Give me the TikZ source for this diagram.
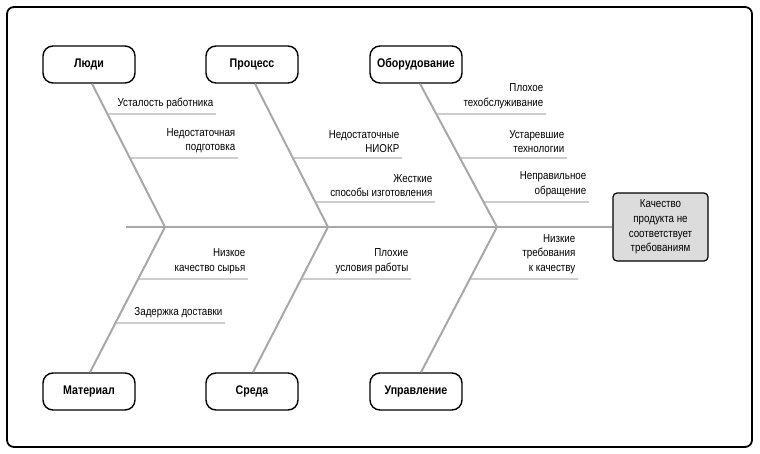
\documentclass[tikz,border=0pt]{standalone}
\usepackage{fontspec}
\setmainfont{Liberation Sans}[FakeStretch=0.85]
\definecolor{bonegray}{RGB}{168,168,168}
\definecolor{ribgray}{RGB}{178,178,178}
\definecolor{headgray}{RGB}{220,220,220}
\begin{document}
\begin{tikzpicture}[x=1pt,y=-1pt,
  cat/.style={draw=black, line width=1.4pt, rounded corners=10pt, minimum width=92pt, minimum height=37pt, inner sep=0pt, fill=white, font=\bfseries\fontsize{12.5}{14}\selectfont},
  headbox/.style={draw=black, line width=1.2pt, rounded corners=4pt, fill=headgray, minimum width=95pt, minimum height=68pt, inner sep=0pt, align=center, font=\fontsize{11.5}{14.6}\selectfont},
  bone/.style={draw=bonegray, line width=2pt},
  rib/.style={draw=ribgray, line width=1.1pt},
  cause/.style={anchor=south east, align=right, inner sep=0pt, font=\fontsize{11.5}{14.5}\selectfont}]
\useasboundingbox (0,0) rectangle (760,453);
\draw[line width=1.8pt, rounded corners=7pt] (7,7) rectangle (752,447);

% category boxes
\node[cat] (lyudi) at (89,64.5) {Люди};
\node[cat] (proc) at (252,64.5) {Процесс};
\node[cat] (obor) at (416,64.5) {Оборудование};
\node[cat] (mat) at (89,391.5) {Материал};
\node[cat] (sreda) at (252,391.5) {Среда};
\node[cat] (upr) at (416,391.5) {Управление};
\node[headbox] (head) at (660.5,227) {Качество\\продукта не\\соответствует\\требованиям};

% spine
\coordinate (tail) at (126,227);
\coordinate (j1) at (165,227);
\coordinate (j2) at (328,227);
\coordinate (j3) at (497,227);
\draw[bone] (tail) -- (head.west);

% bones
\coordinate (t1) at ([xshift=3pt]lyudi.south);
\coordinate (t2) at ([xshift=3pt]proc.south);
\coordinate (t3) at ([xshift=4pt]obor.south);
\coordinate (b1) at ([xshift=1pt]mat.north);
\coordinate (b2) at ([xshift=1pt]sreda.north);
\coordinate (b3) at ([xshift=5pt]upr.north);
\draw[bone] (t1) -- (j1);
\draw[bone] (t2) -- (j2);
\draw[bone] (t3) -- (j3);
\draw[bone] (j1) -- (b1);
\draw[bone] (j2) -- (b2);
\draw[bone] (j3) -- (b3);

\tikzset{cshift/.style={shift={(-2.5pt,5pt)}}}

% ribs: Люди
\coordinate (r11s) at (intersection of t1--j1 and 0,114--100,114);
\coordinate (r11e) at (216,114);
\draw[rib] (r11s) -- (r11e);
\node[cause] (c11) at ([cshift]r11e) {Усталость работника};
\coordinate (r12s) at (intersection of t1--j1 and 0,158--100,158);
\coordinate (r12e) at (238,158);
\draw[rib] (r12s) -- (r12e);
\node[cause] (c12) at ([cshift]r12e) {Недостаточная\\подготовка};

% ribs: Процесс
\coordinate (r21s) at (intersection of t2--j2 and 0,158--100,158);
\coordinate (r21e) at (402,158);
\draw[rib] (r21s) -- (r21e);
\node[cause] (c21) at ([cshift]r21e) {Недостаточные\\НИОКР};
\coordinate (r22s) at (intersection of t2--j2 and 0,202--100,202);
\coordinate (r22e) at (435,202);
\draw[rib] (r22s) -- (r22e);
\node[cause] (c22) at ([cshift]r22e) {Жесткие\\способы изготовления};

% ribs: Оборудование
\coordinate (r31s) at (intersection of t3--j3 and 0,114--100,114);
\coordinate (r31e) at (546,114);
\draw[rib] (r31s) -- (r31e);
\node[cause] (c31) at ([cshift]r31e) {Плохое\\техобслуживание};
\coordinate (r32s) at (intersection of t3--j3 and 0,158--100,158);
\coordinate (r32e) at (567,158);
\draw[rib] (r32s) -- (r32e);
\node[cause] (c32) at ([cshift]r32e) {Устаревшие\\технологии};
\coordinate (r33s) at (intersection of t3--j3 and 0,202--100,202);
\coordinate (r33e) at (589,202);
\draw[rib] (r33s) -- (r33e);
\node[cause] (c33) at ([cshift]r33e) {Неправильное\\обращение};

% ribs: Материал
\coordinate (r41s) at (intersection of j1--b1 and 0,279--100,279);
\coordinate (r41e) at (248,279);
\draw[rib] (r41s) -- (r41e);
\node[cause] (c41) at ([cshift]r41e) {Низкое\\качество сырья};
\coordinate (r42s) at (intersection of j1--b1 and 0,323--100,323);
\coordinate (r42e) at (225,323);
\draw[rib] (r42s) -- (r42e);
\node[cause] (c42) at ([cshift]r42e) {Задержка доставки};

% ribs: Среда
\coordinate (r51s) at (intersection of j2--b2 and 0,279--100,279);
\coordinate (r51e) at (411,279);
\draw[rib] (r51s) -- (r51e);
\node[cause] (c51) at ([cshift]r51e) {Плохие\\условия работы};

% ribs: Управление
\coordinate (r61s) at (intersection of j3--b3 and 0,279--100,279);
\coordinate (r61e) at (578,279);
\draw[rib] (r61s) -- (r61e);
\node[cause] (c61) at ([cshift]r61e) {Низкие\\требования\\к качеству};
\end{tikzpicture}
\end{document}
